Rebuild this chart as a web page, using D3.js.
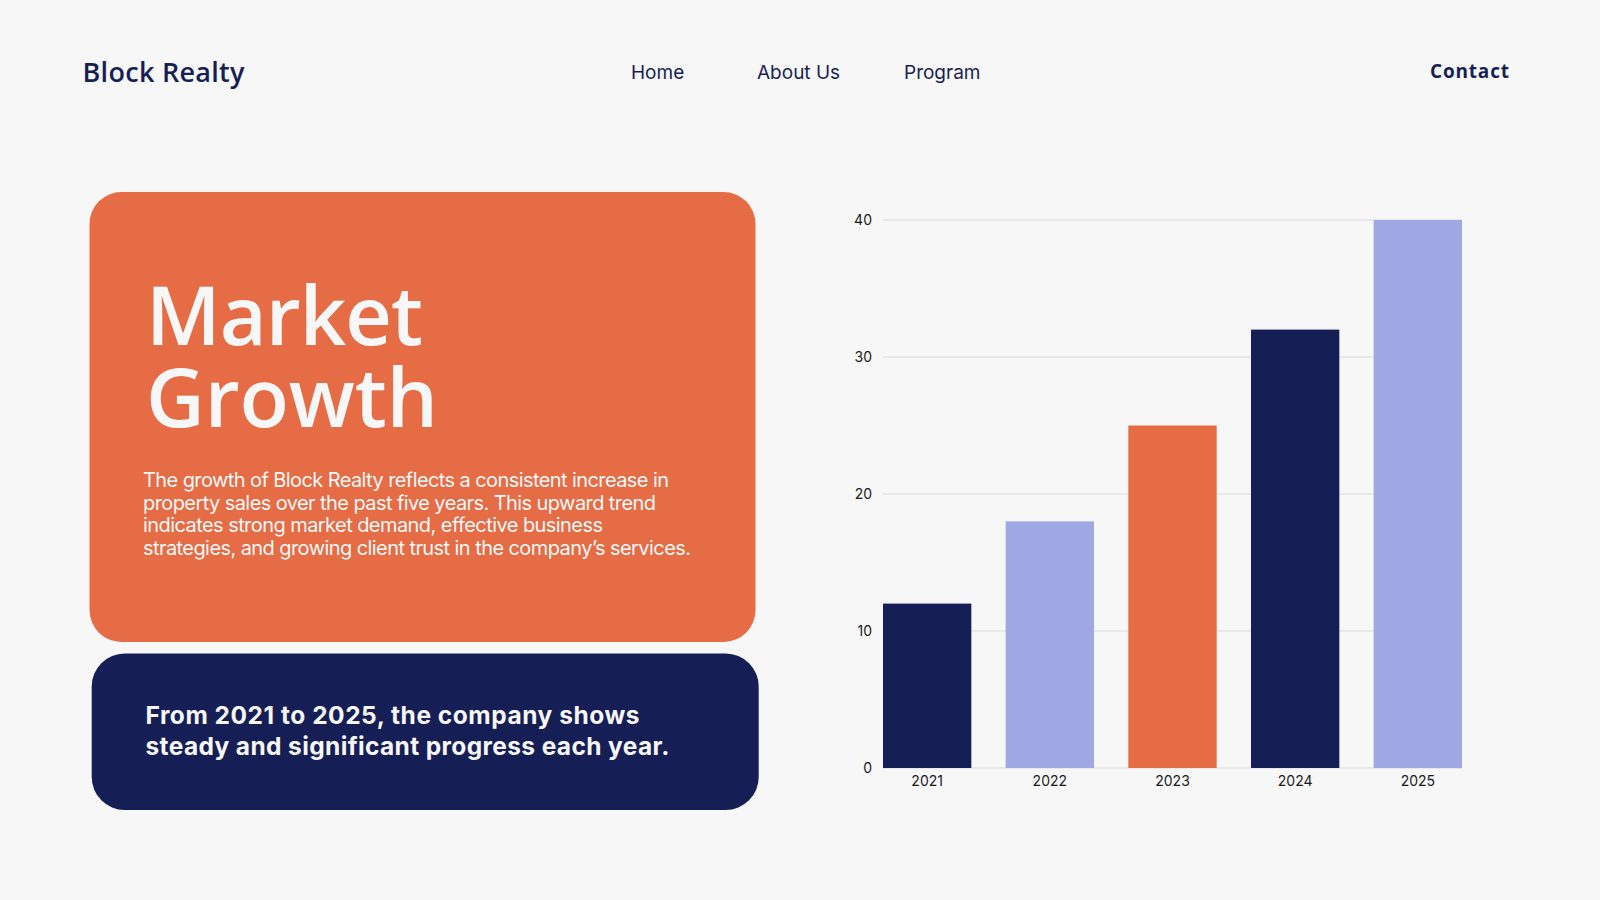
<!DOCTYPE html>
<html>
<head>
<meta charset="utf-8">
<script src="https://cdn.jsdelivr.net/npm/d3@7"></script>
<style>
  html, body { margin: 0; padding: 0; background: #f7f7f7; }
  svg { display: block; }
</style>
</head>
<body>
<div id="chart"></div>
<script>
// ---- data ----
const years = ["2021", "2022", "2023", "2024", "2025"];
const sales = [12, 18, 25, 32, 40];
const barColors = ["#161f55", "#a0a8e4", "#e56c45", "#161f55", "#a0a8e4"];
const yTicks = [0, 10, 20, 30, 40];
const navItems = ["Home", "About Us", "Program"];
const bodyLines = [
  "The growth of Block Realty reflects a consistent increase in",
  "property sales over the past five years. This upward trend",
  "indicates strong market demand, effective business",
  "strategies, and growing client trust in the company’s services."
];
const calloutLines = [
  "From 2021 to 2025, the company shows",
  "steady and significant progress each year."
];
const titleLines = ["Market", "Growth"];

const W = 1600, H = 900;
const navy = "#161f55", orange = "#e56c45";
const svg = d3.select("#chart").append("svg").attr("width", W).attr("height", H);
svg.append("rect").attr("width", W).attr("height", H).attr("fill", "#f7f7f7");

function fit(sel, w) {
  sel.attr("textLength", w).attr("lengthAdjust", "spacing");
}

// ---- header ----
svg.append("text").attr("x", 82.5).attr("y", 81.5)
  .attr("font-family", "'Open Sans', sans-serif").attr("font-weight", 600)
  .attr("font-size", 27).attr("fill", navy).text("Block Realty")
  .call(fit, 162);

const navX = [631, 757, 904];
navItems.forEach((t, i) => {
  svg.append("text").attr("x", navX[i]).attr("y", 79.3)
    .attr("font-family", "Inter, sans-serif").attr("font-size", 19)
    .attr("fill", navy).text(t);
});
svg.append("text").attr("x", 1430).attr("y", 77.5)
  .attr("font-family", "'Open Sans', sans-serif").attr("font-weight", 700)
  .attr("font-size", 19).attr("fill", navy).text("Contact").call(fit, 79);

// ---- cards ----
svg.append("rect").attr("x", 89.5).attr("y", 192).attr("width", 666).attr("height", 450)
  .attr("rx", 32).attr("fill", orange);
svg.append("rect").attr("x", 91.7).attr("y", 653.5).attr("width", 667).attr("height", 156.5)
  .attr("rx", 33).attr("fill", navy);

const titleW = [277, 292];
const title = svg.append("text")
  .attr("font-family", "'Open Sans', sans-serif").attr("font-weight", 600)
  .attr("font-size", 81).attr("fill", "#f7f7f7");
titleLines.forEach((t, i) => {
  title.append("tspan").attr("x", 146).attr("y", 345 + i * 81.7)
    .attr("textLength", titleW[i]).attr("lengthAdjust", "spacing").text(t);
});

const bodyW = [526, 513, 460, 548];
bodyLines.forEach((t, i) => {
  svg.append("text").attr("x", 143).attr("y", 487 + i * 22.7)
    .attr("font-family", "Inter, sans-serif").attr("font-size", 20)
    .attr("fill", "#f7f7f7").text(t).call(fit, bodyW[i]);
});

const callW = [494, 524];
calloutLines.forEach((t, i) => {
  svg.append("text").attr("x", 145.5).attr("y", 723.5 + i * 31.5)
    .attr("font-family", "Inter, sans-serif").attr("font-weight", 700)
    .attr("font-size", 24.5).attr("fill", "#f7f7f7").text(t).call(fit, callW[i]);
});

// ---- chart ----
const x = d3.scaleBand().domain(years).range([883, 1462]).paddingInner(0.28).paddingOuter(0);
const y = d3.scaleLinear().domain([0, 40]).range([768, 220]);

const g = svg.append("g");
g.selectAll("line.grid").data(yTicks).join("line").attr("class", "grid")
  .attr("x1", 883).attr("x2", 1462)
  .attr("y1", d => y(d)).attr("y2", d => y(d))
  .attr("stroke", "#d9d9d9").attr("stroke-width", 1.2);

g.selectAll("text.ytick").data(yTicks).join("text").attr("class", "ytick")
  .attr("x", 872).attr("y", d => y(d)).attr("dy", "0.35em")
  .attr("text-anchor", "end").attr("font-family", "Inter, sans-serif")
  .attr("font-size", 14).attr("fill", "#1a1a1a").text(d => d);

g.selectAll("rect.bar").data(years).join("rect").attr("class", "bar")
  .attr("x", d => x(d)).attr("width", x.bandwidth())
  .attr("y", (d, i) => y(sales[i])).attr("height", (d, i) => y(0) - y(sales[i]))
  .attr("fill", (d, i) => barColors[i]);

g.selectAll("text.xtick").data(years).join("text").attr("class", "xtick")
  .attr("x", d => x(d) + x.bandwidth() / 2).attr("y", 781).attr("dy", "0.35em")
  .attr("text-anchor", "middle").attr("font-family", "Inter, sans-serif")
  .attr("font-size", 14).attr("fill", "#1a1a1a").text(d => d);
</script>
</body>
</html>
